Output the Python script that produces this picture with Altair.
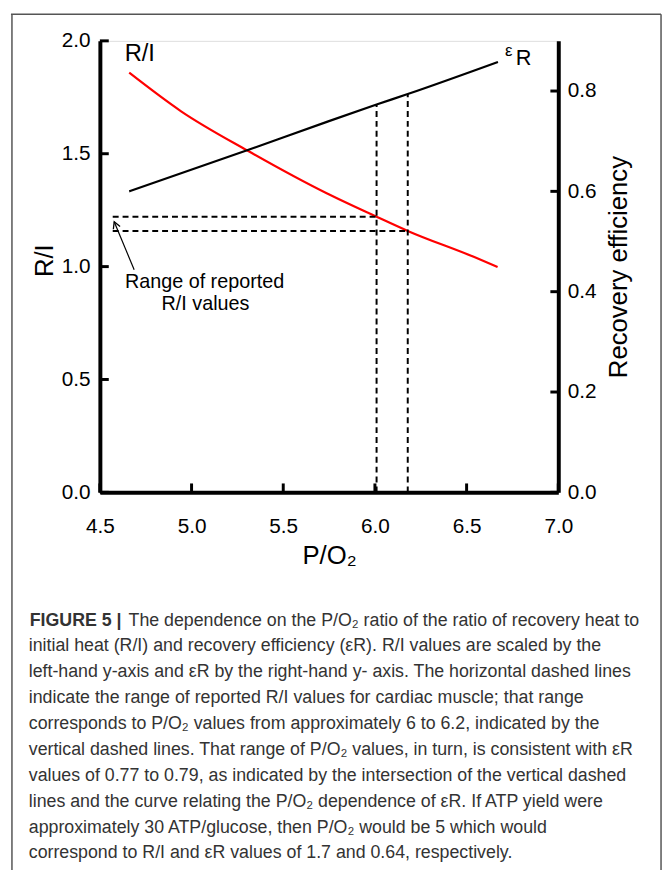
import altair as alt
import pandas as pd

# ---------------- data ----------------
po2_ri = [4.660, 4.943, 5.307, 5.734, 6.009, 6.179, 6.542, 6.669]
ri_vals = [1.859, 1.688, 1.513, 1.326, 1.221, 1.158, 1.042, 0.998]

po2_eps = [4.660, 5.307, 5.734, 6.009, 6.179, 6.671]
eps_vals = [0.600, 0.6825, 0.738, 0.773, 0.794, 0.858]

x_ticks = [4.5, 5.0, 5.5, 6.0, 6.5, 7.0]
ri_ticks = [0.0, 0.5, 1.0, 1.5, 2.0]
eps_ticks = [0.0, 0.2, 0.4, 0.6, 0.8]

ri_range = [1.221, 1.158]        # reported R/I range (horizontal dashed lines)
po2_range = [6.009, 6.179]       # corresponding P/O2 (vertical dashed lines)
eps_at_range = [0.773, 0.794]    # where vertical dashed lines meet eps curve
dash_start = [4.57, 4.57]

arrow_tail = [4.687, 0.986]
arrow_tip = [4.578, 1.199]
note_lines = ["Range of reported", "R/I values"]
note_x = [5.071, 5.076]
note_y = [0.932, 0.832]
ri_label_pos = [4.635, 1.943]

caption_bold = "FIGURE 5 |"
caption_first = "The dependence on the P/O\u2082 ratio of the ratio of recovery heat to"
caption_rest = [
    "initial heat (R/I) and recovery efficiency (\u03b5R). R/I values are scaled by the",
    "left-hand y-axis and \u03b5R by the right-hand y- axis. The horizontal dashed lines",
    "indicate the range of reported R/I values for cardiac muscle; that range",
    "corresponds to P/O\u2082 values from approximately 6 to 6.2, indicated by the",
    "vertical dashed lines. That range of P/O\u2082 values, in turn, is consistent with \u03b5R",
    "values of 0.77 to 0.79, as indicated by the intersection of the vertical dashed",
    "lines and the curve relating the P/O\u2082 dependence of \u03b5R. If ATP yield were",
    "approximately 30 ATP/glucose, then P/O\u2082 would be 5 which would",
    "correspond to R/I and \u03b5R values of 1.7 and 0.64, respectively.",
]

FONT = "Liberation Sans"

# ---------------- scales / axes ----------------
xs = alt.Scale(domain=[4.5, 7.0], nice=False, zero=False)
ys_left = alt.Scale(domain=[0, 2], nice=False)
ys_right = alt.Scale(domain=[0, 0.9], nice=False)

axis_common = dict(ticks=False, grid=False, domainWidth=4, domainColor="black",
                   labelFont=FONT, titleFont=FONT, labelFontSize=21, titleFontSize=26,
                   labelColor="black", titleColor="black", titleFontWeight="normal",
                   labelFlush=False, labelOverlap=False, format=".1f")

x_axis = alt.Axis(values=x_ticks, title="P/O\u2082", labelPadding=24, titlePadding=6, **axis_common)
left_axis = alt.Axis(values=ri_ticks, title="R/I", orient="left", labelPadding=10,
                     titlePadding=4, titleY=222, **axis_common)
right_axis = alt.Axis(values=eps_ticks, title="Recovery efficiency", orient="right",
                      labelPadding=9, titlePadding=10, titleAngle=270, titleBaseline="top",
                      **axis_common)


def X(field=None, **kw):
    if field is None:
        return alt.X(scale=xs, axis=x_axis, title="P/O\u2082", **kw)
    return alt.X(field, scale=xs, axis=x_axis, title="P/O\u2082", **kw)


def YL(field=None, **kw):
    if field is None:
        return alt.Y(scale=ys_left, axis=left_axis, title="R/I", **kw)
    return alt.Y(field, scale=ys_left, axis=left_axis, title="R/I", **kw)


def YR(field=None, **kw):
    if field is None:
        return alt.Y(scale=ys_right, axis=right_axis, title="Recovery efficiency", **kw)
    return alt.Y(field, scale=ys_right, axis=right_axis, title="Recovery efficiency", **kw)


df_ri = pd.DataFrame({"po2": po2_ri, "ri": ri_vals})
df_eps = pd.DataFrame({"po2": po2_eps, "eps": eps_vals})
df_hd = pd.DataFrame({"y": ri_range, "x1": dash_start, "x2": po2_range})
df_vd = pd.DataFrame({"x": po2_range, "y1": [0.0, 0.0], "y2": eps_at_range})
df_xt = pd.DataFrame({"t": x_ticks})
df_lt = pd.DataFrame({"t": ri_ticks})
df_rt = pd.DataFrame({"t": eps_ticks})
df_arrow = pd.DataFrame({"x": [arrow_tail[0]], "y": [arrow_tail[1]],
                         "x2": [arrow_tip[0]], "y2": [arrow_tip[1]]})
df_tip = pd.DataFrame({"x": [arrow_tip[0]], "y": [arrow_tip[1]]})
df_note = pd.DataFrame({"x": note_x, "y": note_y, "t": note_lines})
df_rilab = pd.DataFrame({"x": [ri_label_pos[0]], "y": [ri_label_pos[1]], "t": ["R/I"]})
df_epslab = pd.DataFrame({"x": [po2_eps[-1]], "y": [eps_vals[-1]]})
df_one = pd.DataFrame({"a": [0]})

# ---------------- left (R/I) layer ----------------
red = alt.Chart(df_ri).mark_line(color="#ff0000", strokeWidth=2.2, interpolate="monotone").encode(
    x=X("po2:Q"), y=YL("ri:Q"),
)
hdash = alt.Chart(df_hd).mark_rule(color="black", strokeWidth=2, strokeDash=[6, 4]).encode(
    x=X("x1:Q"), x2="x2:Q", y=YL("y:Q"),
)
xticks = alt.Chart(df_xt).mark_rule(color="black", strokeWidth=3, y2Offset=-9).encode(
    x=X("t:Q"), y=YL(datum=0), y2=alt.Y2(datum=0),
)
lticks = alt.Chart(df_lt).mark_rule(color="black", strokeWidth=3, x2Offset=9).encode(
    y=YL("t:Q"), x=X(datum=4.5), x2=alt.X2(datum=4.5),
)
arrow = alt.Chart(df_arrow).mark_rule(color="black", strokeWidth=1.2).encode(
    x=X("x:Q"), x2="x2:Q", y=YL("y:Q"), y2="y2:Q",
)
tip = alt.Chart(df_tip).mark_point(shape="M-0.55,1 L0,0 L0.55,1", filled=False, color="black",
                                   strokeWidth=1.3, size=180, angle=337.4, opacity=1).encode(
    x=X("x:Q"), y=YL("y:Q"),
)
note = alt.Chart(df_note).mark_text(font=FONT, fontSize=20, color="black", align="center",
                                    baseline="middle").encode(
    x=X("x:Q"), y=YL("y:Q"), text="t:N",
)
rilab = alt.Chart(df_rilab).mark_text(font=FONT, fontSize=24, color="black", align="left",
                                      baseline="middle").encode(
    x=X("x:Q"), y=YL("y:Q"), text="t:N",
)
left_layer = alt.layer(red, hdash, xticks, lticks, arrow, tip, note, rilab)

# ---------------- right (efficiency) layer ----------------
black = alt.Chart(df_eps).mark_line(color="black", strokeWidth=2.2, interpolate="monotone").encode(
    x=X("po2:Q"), y=YR("eps:Q"),
)
vdash = alt.Chart(df_vd).mark_rule(color="black", strokeWidth=2, strokeDash=[6, 4]).encode(
    x=X("x:Q"), y=YR("y1:Q"), y2="y2:Q",
)
rticks = alt.Chart(df_rt).mark_rule(color="black", strokeWidth=3, x2Offset=-8).encode(
    y=YR("t:Q"), x=X(datum=7.0), x2=alt.X2(datum=7.0),
)
eps_sym = alt.Chart(df_epslab).mark_text(font=FONT, fontSize=17, color="black", align="center",
                                         baseline="middle", dx=11, dy=-11, text="\u03b5").encode(
    x=X("x:Q"), y=YR("y:Q"),
)
eps_sub = alt.Chart(df_epslab).mark_text(font=FONT, fontSize=22, color="black", align="left",
                                         baseline="middle", dx=18, dy=-4, text="R").encode(
    x=X("x:Q"), y=YR("y:Q"),
)
right_layer = alt.layer(black, vdash, rticks, eps_sym, eps_sub)

# ---------------- frame and caption (decoration, pixel placed) ----------------
frame_col = "#555555"
frame_top = alt.Chart(df_one).mark_rule(color=frame_col, strokeWidth=1.5).encode(
    x=alt.value(-90), x2=alt.value(568), y=alt.value(-27))
frame_left = alt.Chart(df_one).mark_rule(color=frame_col, strokeWidth=1.5).encode(
    x=alt.value(-89), y=alt.value(-27), y2=alt.value(840))
frame_right = alt.Chart(df_one).mark_rule(color=frame_col, strokeWidth=1.5).encode(
    x=alt.value(568), y=alt.value(-27), y2=alt.value(840))

CAP_FS = 18
cap_bold = alt.Chart(df_one).mark_text(font=FONT, fontSize=CAP_FS, fontWeight="bold", color="#333333",
                                       align="left", baseline="alphabetic", text=caption_bold).encode(
    x=alt.value(-71), y=alt.value(592))
cap_first = alt.Chart(df_one).mark_text(font=FONT, fontSize=CAP_FS, color="#333333",
                                        align="left", baseline="alphabetic", text=caption_first).encode(
    x=alt.value(29), y=alt.value(592))
cap_rest = alt.Chart(df_one).mark_text(font=FONT, fontSize=CAP_FS, color="#333333", lineHeight=26.2,
                                       align="left", baseline="alphabetic", text=caption_rest).encode(
    x=alt.value(-72), y=alt.value(618))

deco = alt.layer(frame_top, frame_left, frame_right, cap_bold, cap_first, cap_rest)

chart = alt.layer(left_layer, right_layer, deco).resolve_scale(y="independent").properties(
    width=464, height=457,
    padding={"left": 93, "top": 28, "right": 107, "bottom": 377},
    autosize="none",
).configure_view(stroke=None).configure(background="white")

chart.save("out.html", embed_options={"renderer": "svg", "actions": False})
